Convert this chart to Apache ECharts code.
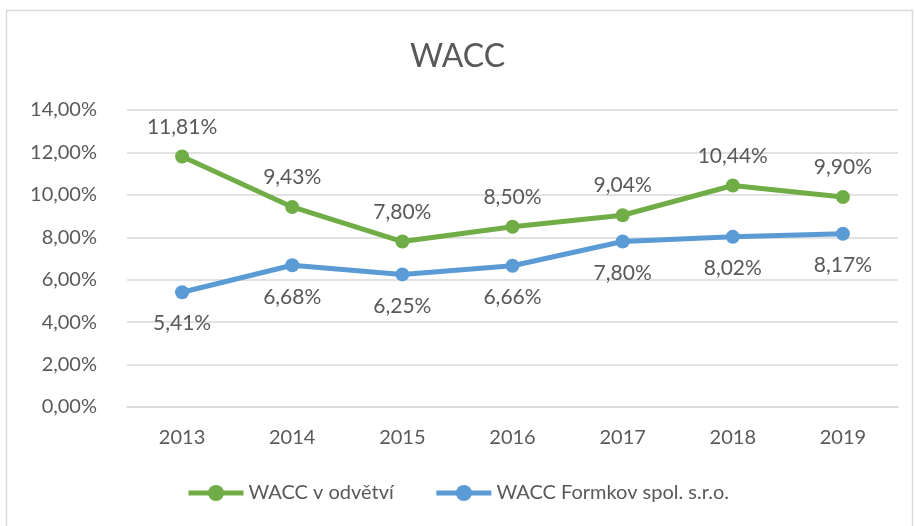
<!DOCTYPE html>
<html>
<head>
<meta charset="utf-8">
<script src="https://cdn.jsdelivr.net/npm/echarts@6/dist/echarts.min.js"></script>
<style>
  html, body { margin: 0; padding: 0; background: #fff; }
  #chart { width: 915px; height: 526px; }
</style>
</head>
<body>
<div id="chart"></div>
<script>
var years = ['2013', '2014', '2015', '2016', '2017', '2018', '2019'];
var waccOdvetvi = [11.81, 9.43, 7.80, 8.50, 9.04, 10.44, 9.90];
var waccFormkov = [5.41, 6.68, 6.25, 6.66, 7.80, 8.02, 8.17];
var seriesNames = ['WACC v odvětví', 'WACC Formkov spol. s.r.o.'];

function pct(v) {
    return v.toFixed(2).replace('.', ',') + '%';
}

var chart = echarts.init(document.getElementById('chart'));
var font = 'Lato, "Open Sans", sans-serif';
var grey = '#595959';

chart.setOption({
    animation: false,
    textStyle: { fontFamily: font },
    graphic: [{
        type: 'rect',
        shape: { x: 6.5, y: 10.5, width: 906, height: 530 },
        style: { fill: 'none', stroke: '#d9d9d9', lineWidth: 1.5 },
        silent: true
    }],
    title: {
        text: 'WACC',
        left: 'center',
        top: 36,
        textStyle: { fontFamily: font, fontSize: 32, fontWeight: 'normal', color: grey }
    },
    legend: {
        bottom: 18,
        left: 'center',
        itemGap: 40,
        itemWidth: 55,
        itemHeight: 20,
        textStyle: { fontFamily: font, fontSize: 20, color: grey },
        lineStyle: { width: 5 },
        data: seriesNames
    },
    grid: { left: 127, right: 17, top: 110, bottom: 119, containLabel: false },
    xAxis: {
        type: 'category',
        data: years,
        boundaryGap: true,
        axisLine: { lineStyle: { color: '#d9d9d9', width: 1.5 } },
        axisTick: { show: false },
        axisLabel: { color: grey, fontSize: 20, margin: 21, fontFamily: font }
    },
    yAxis: {
        type: 'value',
        min: 0,
        max: 14,
        interval: 2,
        axisLine: { show: false },
        axisTick: { show: false },
        splitLine: { lineStyle: { color: '#d9d9d9', width: 1.5 } },
        axisLabel: {
            color: grey, fontSize: 20, margin: 30, fontFamily: font,
            formatter: function (v) { return pct(v); }
        }
    },
    series: [{
        name: seriesNames[0],
        type: 'line',
        data: waccOdvetvi,
        color: '#70ad47',
        lineStyle: { width: 5 },
        symbol: 'circle',
        symbolSize: 14,
        label: {
            show: true, position: 'top', distance: 12,
            color: grey, fontSize: 21, fontFamily: font,
            formatter: function (p) { return pct(p.value); }
        }
    }, {
        name: seriesNames[1],
        type: 'line',
        data: waccFormkov,
        color: '#5b9bd5',
        lineStyle: { width: 5 },
        symbol: 'circle',
        symbolSize: 14,
        label: {
            show: true, position: 'bottom', distance: 14,
            color: grey, fontSize: 21, fontFamily: font,
            formatter: function (p) { return pct(p.value); }
        }
    }]
});
</script>
</body>
</html>
